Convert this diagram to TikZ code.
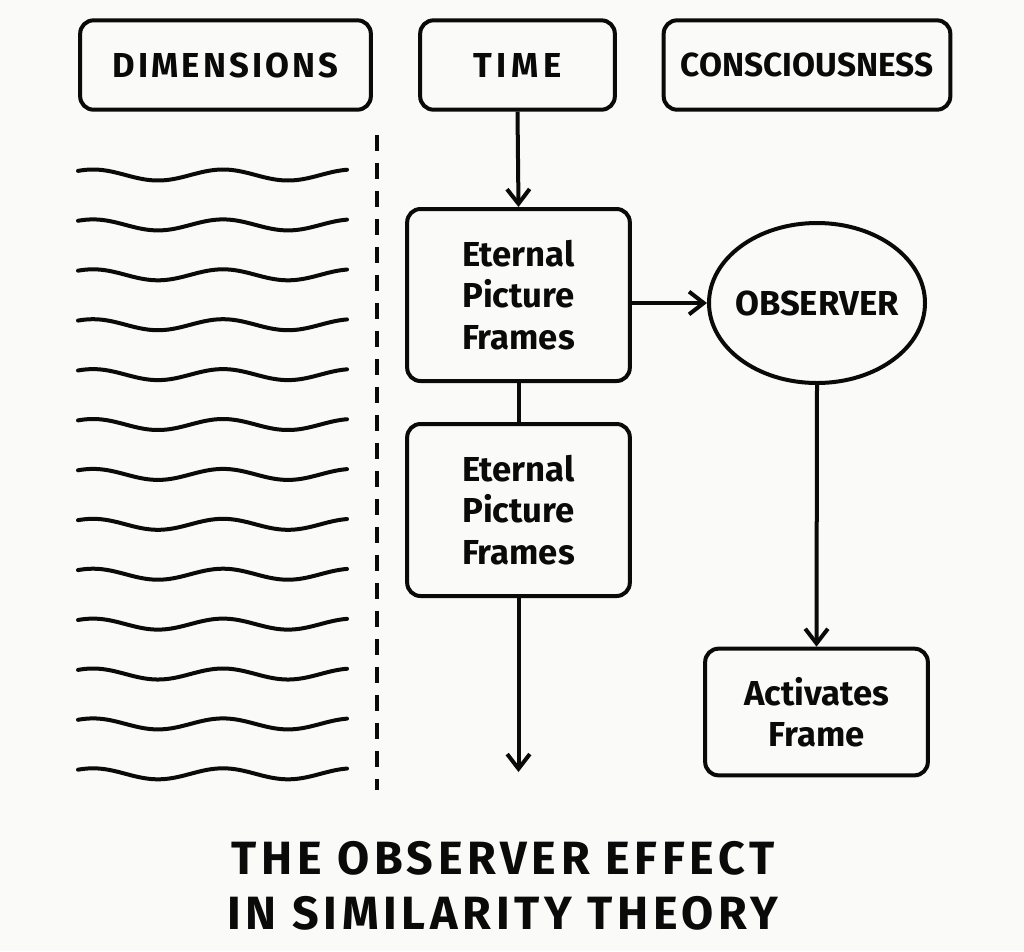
\documentclass[tikz,border=0pt]{standalone}
\usepackage{fontspec}
\setmainfont{Fira Sans}
\newfontfamily\hdfont{Fira Sans}[LetterSpace=9]
\newfontfamily\timefont{Fira Sans}[LetterSpace=14]
\newfontfamily\ttlfont{Fira Sans}[LetterSpace=10]
\usetikzlibrary{arrows.meta,shapes.geometric}
\definecolor{bg}{RGB}{250,250,248}
\definecolor{ink}{RGB}{10,10,10}
\begin{document}
\begin{tikzpicture}[x=0.75pt,y=-0.75pt,
  line width=3pt, draw=ink,
  hdbox/.style={draw=ink, rounded corners=10pt, line width=3pt, inner sep=0pt,
     minimum height=67pt, font=\hdfont\bfseries\fontsize{26}{30}\selectfont, text=ink},
  framebox/.style={draw=ink, rounded corners=10pt, line width=3pt, inner sep=0pt,
     minimum width=167pt, minimum height=129pt, align=center,
     font=\bfseries\fontsize{26}{31}\selectfont, text=ink},
  obsbox/.style={draw=ink, ellipse, line width=3pt, inner sep=0pt, inner xsep=-8pt,
     minimum width=162pt, minimum height=120pt,
     font=\bfseries\fontsize{26}{31}\selectfont, text=ink},
  conn/.style={draw=ink, line width=3pt},
  arr/.style={conn, -{Straight Barb[length=11pt,width=17pt,line width=3pt]}},
  wave/.style={draw=ink, line width=3pt, line cap=round},
  dashline/.style={draw=ink, line width=3pt, dash pattern=on 12pt off 9pt},
  titletext/.style={align=center, text=ink,
     font=\ttlfont\bfseries\fontsize{35}{41}\selectfont}
]
\fill[bg] (0,0) rectangle (1024,951);
\useasboundingbox (0,0) rectangle (1024,951);

% header boxes
\node[hdbox, minimum width=218pt] (dim) at (225.5,65) {DIMENSIONS};
\node[hdbox, minimum width=146pt, font=\timefont\bfseries\fontsize{26}{30}\selectfont] (time) at (517.5,65) {TIME};
\node[hdbox, minimum width=215pt, font=\bfseries\fontsize{25}{30}\selectfont] (cons) at (807,65) {CONSCIOUSNESS};

% frames
\node[framebox] (ef1) at (518.5,295) {Eternal\\Picture\\Frames};
\node[framebox] (ef2) at (518.5,510) {Eternal\\Picture\\Frames};
\node[obsbox] (obs) at (817,303) {OBSERVER};
\node[framebox, minimum height=95pt] (act) at (816.5,712) {Activates\\Frame};

% connectors
\draw[arr] (time.south) -- (ef1.north);
\draw[conn] (ef1.south) -- (ef2.north);
\coordinate (downend) at (518.5,772);
\draw[arr] (ef2.south) -- (downend);
\draw[arr] (ef1.east |- obs.west) -- (obs.west);
\draw[arr] (obs.south) -- (act.north);

% waves
\foreach \i in {0,...,12}{
  \draw[wave] plot[domain=78:347, samples=90, smooth]
    (\x, {175+49.9*\i-5.5*cos(2.769*(\x-93))});
}

% dashed divider
\coordinate (dtop) at (377,135);
\coordinate (dbot) at (377,790);
\draw[dashline] (dtop) -- (dbot);

% title
\node[titletext] (title) at (503,886) {THE OBSERVER EFFECT\\IN SIMILARITY THEORY};
\end{tikzpicture}
\end{document}
